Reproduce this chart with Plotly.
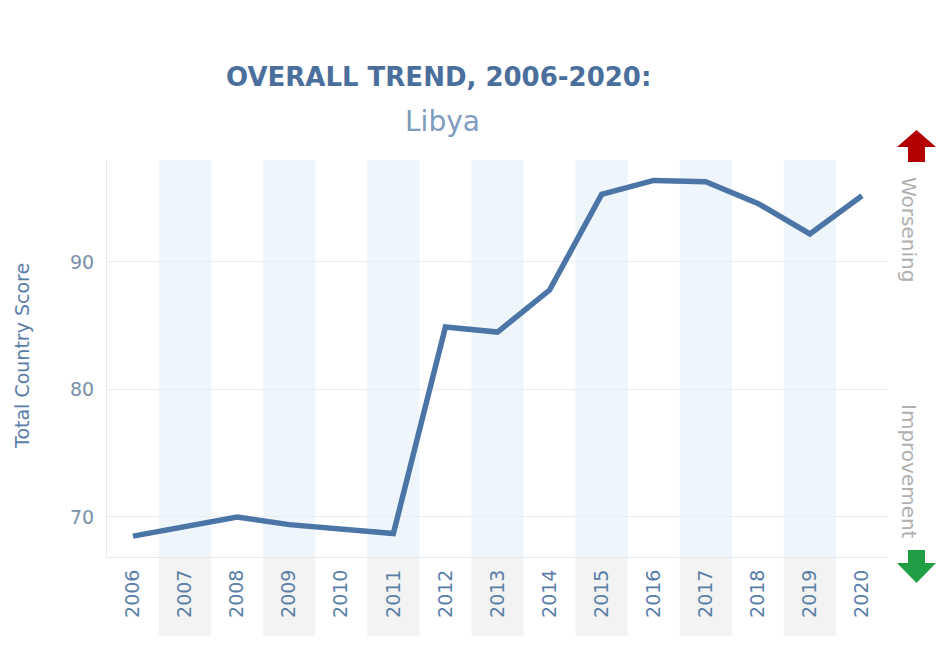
import plotly.graph_objects as go

years = [2006, 2007, 2008, 2009, 2010, 2011, 2012, 2013, 2014, 2015, 2016, 2017, 2018, 2019, 2020]
scores = [68.5, 69.3, 70.0, 69.4, 69.1, 68.7, 84.9, 84.5, 87.8, 95.3, 96.4, 96.3, 94.6, 92.2, 95.2]
y_ticks = [70, 80, 90]
title_text = "OVERALL TREND, 2006-2020:"
subtitle_text = "Libya"
y_title = "Total Country Score"

# page is offset by the default 8px body margin
OFF = 8
PAGE_W, PAGE_H = 945, 653
W, H = PAGE_W - OFF, PAGE_H - OFF
# plot area in page pixel coordinates
L, R, T, B = 107, 888, 160, 557
pw, ph = R - L, B - T


def px(x):
    return (x - L) / pw


def py(y):
    return (B - y) / ph


fig = go.Figure()

shapes = []
for i, yr in enumerate(years):
    if i % 2 == 1:
        shapes.append(dict(type="rect", xref="x", yref="paper", x0=yr - 0.5, x1=yr + 0.5,
                           y0=0, y1=1, fillcolor="#eef5fb", line=dict(width=0), layer="below"))
        shapes.append(dict(type="rect", xref="x", yref="paper", x0=yr - 0.5, x1=yr + 0.5,
                           y0=py(636), y1=0, fillcolor="#f3f3f3", line=dict(width=0), layer="below"))


def path(pts):
    return "M " + " L ".join(f"{px(a):.5f},{py(b):.5f}" for a, b in pts) + " Z"


red = [(908, 162), (908, 147), (897, 147), (916.5, 130), (936, 147), (925, 147), (925, 162)]
green = [(908, 550), (925, 550), (925, 563), (936, 563), (916.5, 583), (897, 563), (908, 563)]
shapes.append(dict(type="path", xref="paper", yref="paper", path=path(red),
                   fillcolor="#b30000", line=dict(width=0)))
shapes.append(dict(type="path", xref="paper", yref="paper", path=path(green),
                   fillcolor="#1f9e44", line=dict(width=0)))

fig.add_trace(go.Scatter(x=years, y=scores, mode="lines",
                         line=dict(color="#4b75a6", width=5.5), hoverinfo="x+y"))

font = "DejaVu Sans, Verdana, sans-serif"


def ann(text, x, y, size, color, angle=0):
    return dict(text=text, x=px(x), y=py(y), xref="paper", yref="paper",
                xanchor="center", yanchor="middle", textangle=angle, showarrow=False,
                font=dict(family=font, size=size, color=color))


annotations = [
    ann(f"<b>{title_text}</b>", 438, 77, 26, "#4a6f9c"),
    ann(subtitle_text, 442, 121, 28, "#7f9cc0"),
    ann(y_title, 22, 356, 19, "#5a7ea8", -90),
    ann("Worsening", 909, 229, 20, "#b0b0b0", 90),
    ann("Improvement", 909, 471, 20, "#b0b0b0", 90),
]

fig.update_layout(
    width=W, height=H,
    margin=dict(l=L - OFF, r=W - (R - OFF), t=T - OFF, b=H - (B - OFF), pad=0),
    paper_bgcolor="white", plot_bgcolor="white",
    showlegend=False,
    shapes=shapes,
    annotations=annotations,
    xaxis=dict(range=[years[0] - 0.5, years[-1] + 0.5], tickvals=years,
               ticktext=[str(y) for y in years], tickangle=-90,
               showgrid=False, zeroline=False, showline=True, linecolor="#e8e8e8",
               ticks="", ticklabelstandoff=4,
               tickfont=dict(family=font, size=19, color="#5a7ea8"), fixedrange=True),
    yaxis=dict(range=[66.86, 98.0], tickvals=y_ticks, showgrid=True, gridcolor="#ececec",
               zeroline=False, showline=True, linecolor="#e8e8e8", ticks="",
               ticklabelstandoff=8,
               tickfont=dict(family=font, size=19, color="#7a8fa8"), fixedrange=True),
)

fig.write_html("out.html")
